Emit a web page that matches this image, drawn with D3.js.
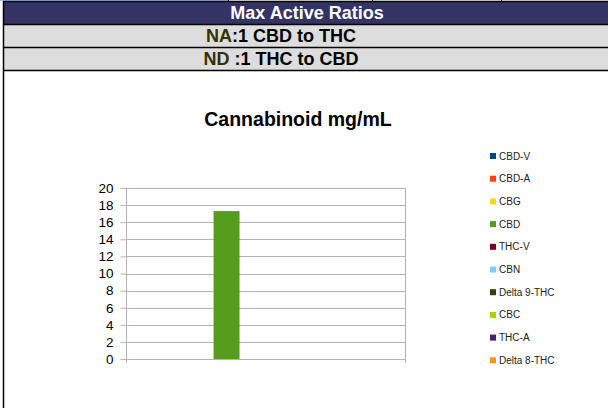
<!DOCTYPE html>
<html>
<head>
<meta charset="utf-8">
<script src="https://cdn.jsdelivr.net/npm/d3@7"></script>
<style>
  body { margin: 0; background: #fff; }
  svg { display: block; font-family: Arial, "Liberation Sans", Helvetica, sans-serif; }
</style>
</head>
<body>
<svg id="chart" width="608" height="408"></svg>
<script>
// data
const series = ["CBD-V", "CBD-A", "CBG", "CBD", "THC-V", "CBN", "Delta 9-THC", "CBC", "THC-A", "Delta 8-THC"];
const values = [0, 0, 0, 17.3, 0, 0, 0, 0, 0, 0];
const colors = ["#004586", "#ff420e", "#ffd320", "#579d1c", "#7e0021", "#83caff", "#314004", "#aecf00", "#4b1f6f", "#ff950e"];
const yTicks = [0, 2, 4, 6, 8, 10, 12, 14, 16, 18, 20];
const headerTitle = "Max Active Ratios";
const ratioRows = [{lead: "NA", rest: ":1 CBD to THC"}, {lead: "ND ", rest: ":1 THC to CBD"}];
const chartTitle = "Cannabinoid mg/mL";

const WIDTH = 608, HEIGHT = 408;
const PLOT = {left: 126, right: 405, top: 188, bottom: 359};

const svg = d3.select("#chart");

// table header part
svg.append("rect").attr("x", 0).attr("y", 0).attr("width", 228).attr("height", 1).attr("fill", "#9fc9ee");
[228, 372, 501].forEach(x => {
  svg.append("line").attr("x1", x + 0.5).attr("x2", x + 0.5).attr("y1", 0).attr("y2", 2)
    .attr("stroke", "#000");
});
svg.append("rect").attr("x", 3).attr("y", 1).attr("width", WIDTH - 3).attr("height", 23).attr("fill", "#333366");
svg.append("text").attr("x", 307).attr("y", 19).attr("text-anchor", "middle")
  .attr("fill", "#fff").attr("font-weight", "bold").attr("font-size", 18).text(headerTitle);

ratioRows.forEach((r, i) => {
  const y0 = 25 + i * 23;
  svg.append("rect").attr("x", 3).attr("y", y0).attr("width", WIDTH - 3).attr("height", 22).attr("fill", "#dddddd");
  const t = svg.append("text").attr("x", 281).attr("y", y0 + 17).attr("text-anchor", "middle")
    .attr("font-weight", "bold").attr("font-size", 18);
  t.append("tspan").attr("fill", "#333300").style("white-space", "pre").text(r.lead);
  t.append("tspan").attr("fill", "#000").text(r.rest);
});
[1, 24, 47, 70].forEach(y => {
  svg.append("line").attr("x1", 3).attr("x2", WIDTH).attr("y1", y + 0.5).attr("y2", y + 0.5)
    .attr("stroke", "#000").attr("stroke-width", 1.5);
});
svg.append("line").attr("x1", 3.5).attr("x2", 3.5).attr("y1", 1).attr("y2", HEIGHT)
  .attr("stroke", "#000").attr("stroke-width", 1.5);

// chart
svg.append("text").attr("x", 298).attr("y", 126).attr("text-anchor", "middle")
  .attr("font-weight", "bold").attr("font-size", 19.5).attr("fill", "#000").text(chartTitle);

const y = d3.scaleLinear().domain([0, 20]).range([PLOT.bottom, PLOT.top]);
const x = d3.scaleBand().domain(series).range([PLOT.left, PLOT.right]).paddingInner(0).paddingOuter(0.37);

// gridlines
svg.append("g").selectAll("line").data(yTicks).join("line")
  .attr("x1", PLOT.left).attr("x2", PLOT.right)
  .attr("y1", d => Math.round(y(d)) + 0.5).attr("y2", d => Math.round(y(d)) + 0.5)
  .attr("stroke", "#b3b3b3");

// frame sides
[PLOT.left, PLOT.right].forEach(px => {
  svg.append("line").attr("x1", px + 0.5).attr("x2", px + 0.5)
    .attr("y1", PLOT.top).attr("y2", PLOT.bottom + 4).attr("stroke", "#b3b3b3");
});

// y axis
const yAxis = svg.append("g").attr("transform", `translate(${PLOT.left + 0.5},0)`)
  .call(d3.axisLeft(y).tickValues(yTicks).tickSize(6).tickPadding(7));
yAxis.select(".domain").remove();
yAxis.selectAll(".tick line").attr("stroke", "#b3b3b3");
yAxis.selectAll(".tick text").attr("font-size", 13.5).attr("fill", "#000")
  .attr("font-family", "Arial, Liberation Sans, sans-serif");

// bars
svg.append("g").selectAll("rect").data(series).join("rect")
  .attr("x", d => x(d))
  .attr("width", x.bandwidth())
  .attr("y", (d, i) => y(values[i]))
  .attr("height", (d, i) => y(0) - y(values[i]))
  .attr("fill", (d, i) => colors[i]);

// legend
const legend = svg.append("g").selectAll("g").data(series).join("g")
  .attr("transform", (d, i) => `translate(490,${156 + i * 22.7})`);
legend.append("rect").attr("x", 0).attr("y", -3).attr("width", 6).attr("height", 6)
  .attr("fill", (d, i) => colors[i]);
legend.append("text").attr("x", 9).attr("y", 3.5).attr("font-size", 10).attr("fill", "#222").text(d => d);
</script>
</body>
</html>
